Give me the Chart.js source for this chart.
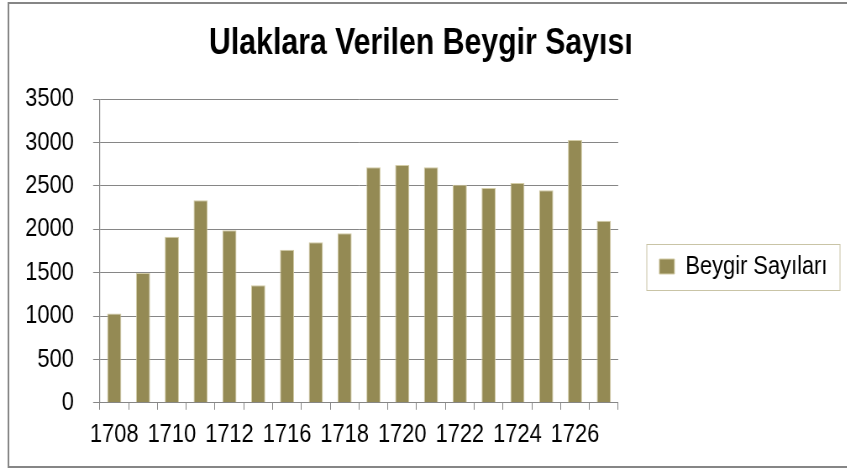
<!doctype html>
<html>

<head>
    <title>Ulaklara Verilen Beygir Sayısı</title>
    <script src="https://cdn.jsdelivr.net/npm/chart.js@4/dist/chart.umd.min.js"></script>
    <style>
    html, body {
        margin: 0;
        overflow: hidden;
        background: #fff;
    }
    #wrap {
        width: 847px;
        height: 468px;
        overflow: hidden;
    }
    /* the original picture is horizontally squeezed, so the chart is drawn
       wider and scaled back to 847px */
    #canvas {
        transform: scaleX(0.84);
        transform-origin: 0 0;
    }
    </style>
</head>

<body>
    <div id="wrap">
        <canvas id="canvas" width="1008" height="468"></canvas>
    </div>
    <script>
    var years = ["1708", "1709", "1710", "1711", "1712", "1714", "1716", "1717", "1718",
        "1719", "1720", "1721", "1722", "1723", "1724", "1725", "1726", "1727"];
    var horses = [1030, 1495, 1915, 2335, 1990, 1355, 1765, 1850, 1955,
        2715, 2740, 2715, 2515, 2475, 2535, 2450, 3030, 2100];
    var yTicks = [0, 500, 1000, 1500, 2000, 2500, 3000, 3500];

    var FONT = "'Liberation Sans', Arial, sans-serif";
    var gray = '#868686';

    // outer frame + box around the legend
    var frames = {
        id: 'frames',
        beforeDraw: function(chart) {
            var ctx = chart.ctx;
            ctx.save();
            ctx.fillStyle = '#fff';
            ctx.fillRect(0, 0, chart.width, chart.height);
            ctx.strokeStyle = gray;
            ctx.lineWidth = 2;
            ctx.strokeRect(10, 3, chart.width + 20, chart.height - 4);
            ctx.restore();
        },
        afterDraw: function(chart) {
            var hb = chart.legend.legendHitBoxes[0];
            if (!hb) return;
            var ctx = chart.ctx;
            ctx.save();
            ctx.strokeStyle = '#c9c4a6';
            ctx.lineWidth = 1;
            var cy = hb.top + hb.height / 2;
            ctx.strokeRect(Math.round(hb.left - 15), Math.round(cy - 23) + 0.5,
                Math.round(hb.width + 30), 46);
            ctx.restore();
        }
    };

    var config = {
        type: 'bar',
        data: {
            labels: years,
            datasets: [{
                label: 'Beygir Sayıları',
                data: horses,
                backgroundColor: '#948a54',
                borderColor: '#d3cca6',
                borderWidth: 1,
                barPercentage: 0.49,
                categoryPercentage: 1
            }]
        },
        options: {
            responsive: false,
            animation: false,
            layout: {
                padding: {left: 7, right: 13, top: 0, bottom: 9}
            },
            plugins: {
                title: {
                    display: true,
                    text: 'Ulaklara Verilen Beygir Sayısı',
                    color: '#000',
                    font: {family: FONT, size: 36, weight: 'bold'},
                    padding: {top: 22, bottom: 34}
                },
                legend: {
                    position: 'right',
                    fullSize: false,
                    maxWidth: 400,
                    title: {
                        display: true,
                        text: '',
                        font: {size: 10},
                        padding: {top: 0, bottom: 19}
                    },
                    labels: {
                        color: '#000',
                        font: {family: FONT, size: 26},
                        boxWidth: 18,
                        boxHeight: 15,
                        padding: 49
                    }
                },
                tooltip: {enabled: false}
            },
            scales: {
                x: {
                    offset: true,
                    border: {color: gray, width: 1},
                    grid: {
                        offset: true,
                        drawOnChartArea: false,
                        drawTicks: true,
                        tickLength: 7,
                        color: gray
                    },
                    ticks: {
                        color: '#000',
                        font: {family: FONT, size: 26},
                        autoSkip: false,
                        maxRotation: 0,
                        padding: 9,
                        callback: function(value, index) {
                            return index % 2 === 0 ? years[index] : '';
                        }
                    }
                },
                y: {
                    min: yTicks[0],
                    max: yTicks[yTicks.length - 1],
                    border: {color: gray, width: 1.2},
                    grid: {
                        color: gray,
                        tickLength: 8
                    },
                    ticks: {
                        stepSize: yTicks[1] - yTicks[0],
                        color: '#000',
                        font: {family: FONT, size: 26},
                        padding: 23,
                        callback: function(value) {
                            return String(value);
                        }
                    }
                }
            }
        },
        plugins: [frames]
    };

    window.onload = function() {
        window.myBar = new Chart(document.getElementById('canvas'), config);
    };
    </script>
</body>

</html>
